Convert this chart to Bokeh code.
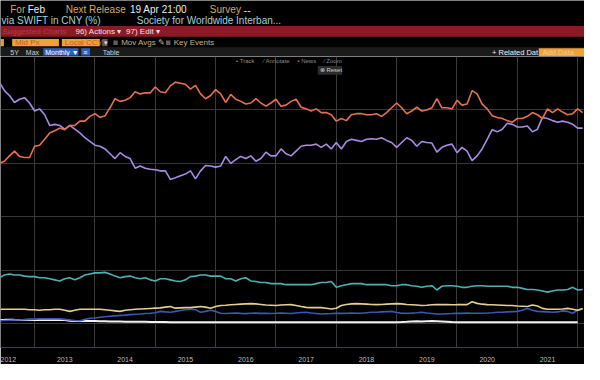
import pandas as pd
from bokeh.plotting import figure
from bokeh.layouts import column
from bokeh.models import Range1d, FixedTicker, CustomJSTickFormatter, Label, BoxAnnotation
from bokeh.core.properties import value
from bokeh.embed import file_html
from bokeh.resources import INLINE

# ---------------- data (monthly, Jun 2012 - Feb 2022, share in %) ----------------
months = pd.date_range("2012-06-01", "2022-02-01", freq="MS")
xs = list(months.year + (months.month - 1) / 12.0)

usd = [30.0, 30.4, 31.4, 32.3, 31.3, 31.1, 31.1, 33.2, 33.4, 34.5,
       35.7, 36.1, 36.6, 36.3, 37.1, 37.1, 37.9, 37.9, 38.8, 39.3,
       38.6, 38.9, 40.4, 42.1, 41.6, 41.8, 42.3, 43.4, 43.0, 43.2,
       43.2, 44.3, 43.4, 43.2, 44.5, 45.2, 45.0, 44.8, 43.9, 44.6,
       43.0, 42.1, 42.7, 43.8, 43.0, 41.4, 42.9, 42.0, 41.6, 41.1,
       41.3, 42.1, 41.3, 40.7, 41.3, 42.0, 40.7, 40.9, 41.6, 42.0,
       40.5, 40.2, 39.8, 40.2, 39.5, 39.5, 39.1, 37.9, 38.4, 38.0,
       39.1, 39.3, 39.3, 39.1, 39.1, 39.3, 38.8, 39.5, 40.4, 41.3,
       40.4, 39.3, 39.8, 40.5, 39.8, 40.0, 40.4, 42.1, 40.4, 40.4,
       40.2, 41.8, 40.9, 41.1, 43.6, 43.0, 41.1, 40.2, 38.9, 38.6,
       38.4, 38.0, 37.7, 38.4, 38.4, 38.8, 39.5, 39.1, 38.4, 40.2,
       39.5, 40.2, 39.6, 39.1, 39.3, 40.2, 39.5]

eur = [45.2, 43.6, 42.7, 41.4, 42.0, 42.3, 41.3, 39.8, 40.2, 39.1,
       37.1, 37.3, 37.1, 36.4, 37.1, 36.4, 35.7, 34.8, 34.1, 33.4,
       33.2, 32.7, 31.8, 30.9, 32.0, 31.3, 30.9, 29.1, 29.5, 29.1,
       28.9, 28.8, 28.6, 28.6, 27.0, 27.3, 27.7, 28.0, 28.6, 27.1,
       28.6, 29.6, 29.5, 29.3, 29.5, 31.3, 30.0, 30.7, 31.3, 30.9,
       31.4, 30.4, 30.9, 32.1, 31.4, 31.4, 32.7, 31.8, 31.4, 32.3,
       33.2, 33.4, 33.4, 33.6, 33.0, 33.6, 32.7, 33.9, 32.7, 34.1,
       34.5, 34.3, 34.1, 34.5, 34.6, 34.5, 34.8, 34.3, 33.9, 33.0,
       33.9, 34.8, 34.3, 33.2, 34.1, 33.9, 33.8, 32.1, 33.0, 33.4,
       33.6, 32.0, 33.0, 32.3, 30.5, 31.4, 32.7, 34.5, 36.3, 35.9,
       36.4, 37.5, 37.3, 36.8, 36.8, 37.0, 35.9, 36.4, 38.6, 38.4,
       38.0, 37.7, 37.9, 37.7, 37.3, 36.6, 36.6]

gbp = [8.6, 9.1, 9.3, 9.1, 9.1, 8.9, 8.8, 8.8, 8.6, 8.6,
       8.4, 8.2, 8.0, 8.4, 8.6, 8.2, 8.6, 9.1, 9.3, 9.5,
       9.5, 9.6, 9.3, 8.9, 8.6, 8.8, 8.9, 8.6, 8.4, 8.6,
       8.2, 8.0, 8.4, 8.4, 8.2, 8.0, 7.9, 8.2, 8.8, 8.9,
       9.1, 9.1, 8.9, 8.9, 8.9, 8.4, 8.4, 8.0, 8.4, 8.6,
       8.0, 7.9, 7.7, 7.7, 7.5, 7.5, 7.5, 7.3, 7.3, 7.3,
       7.3, 7.3, 7.3, 7.5, 7.7, 7.7, 7.9, 6.8, 7.1, 7.3,
       7.5, 7.5, 7.5, 7.3, 7.3, 7.3, 7.3, 7.3, 7.1, 7.1,
       7.3, 7.3, 7.1, 7.0, 6.8, 7.0, 7.1, 6.3, 7.0, 7.1,
       7.1, 7.0, 6.8, 6.8, 7.0, 7.1, 7.1, 7.0, 7.0, 7.0,
       7.0, 7.0, 6.8, 6.8, 6.6, 6.4, 6.4, 6.3, 6.1, 5.9,
       6.1, 6.3, 6.3, 6.4, 6.8, 6.3, 6.4]

jpy = [2.7, 2.7, 2.7, 2.7, 2.7, 2.7, 2.6, 2.6, 2.5, 2.6,
       2.6, 2.7, 2.7, 2.5, 2.3, 2.5, 2.7, 2.7, 2.7, 2.7,
       2.7, 2.6, 2.5, 2.4, 2.3, 2.5, 2.6, 2.7, 2.75, 2.8,
       2.85, 2.9, 2.95, 3.1, 3.2, 2.9, 2.95, 3.0, 3.0, 3.1,
       3.2, 3.1, 2.9, 3.2, 3.4, 3.45, 3.55, 3.6, 3.65, 3.7,
       3.75, 3.7, 3.6, 3.5, 3.45, 3.4, 3.5, 3.55, 3.57, 3.4,
       3.2, 3.05, 3.0, 3.0, 3.0, 2.9, 2.75, 2.9, 3.4, 3.6,
       3.7, 3.75, 3.7, 3.65, 3.6, 3.57, 3.6, 3.65, 3.7, 3.75,
       3.7, 3.6, 3.55, 3.5, 3.4, 3.45, 3.55, 3.6, 3.57, 3.57,
       3.55, 3.57, 3.6, 3.57, 4.1, 3.8, 3.65, 3.57, 3.55, 3.5,
       3.45, 3.4, 3.4, 3.3, 3.25, 3.2, 3.5, 3.3, 2.86, 2.7,
       2.7, 2.7, 2.75, 2.86, 2.7, 2.5, 2.86]

cny = [0.54, 0.6, 0.65, 0.7, 0.7, 0.75, 0.8, 0.85, 0.9, 0.9,
       0.9, 0.9, 0.9, 0.8, 0.7, 0.6, 0.55, 0.8, 1.0, 1.07,
       1.2, 1.3, 1.4, 1.45, 1.55, 1.6, 1.7, 1.75, 1.8, 1.9,
       1.96, 2.05, 2.3, 2.2, 2.14, 2.3, 2.45, 2.6, 2.7, 2.6,
       2.14, 2.3, 2.5, 2.3, 1.96, 1.9, 1.95, 2.0, 1.93, 1.88,
       1.95, 1.98, 1.92, 1.96, 1.9, 1.94, 2.0, 1.95, 1.9, 2.0,
       2.1, 2.14, 2.0, 1.9, 1.8, 1.85, 1.9, 1.96, 1.93, 1.96,
       1.98, 1.94, 1.96, 2.05, 2.14, 2.14, 2.2, 2.25, 2.3, 2.1,
       1.96, 1.94, 1.98, 2.05, 2.14, 2.0, 1.9, 1.8, 1.8, 1.85,
       1.9, 1.96, 1.93, 1.98, 1.96, 1.94, 1.96, 2.0, 2.05, 2.14,
       2.14, 2.2, 2.25, 2.3, 2.5, 2.86, 2.5, 2.3, 2.25, 2.2,
       2.14, 2.2, 2.4, 2.3, 1.96, 2.5, 2.7]

other = [0.7, 0.72, 0.75, 0.72, 0.7, 0.7, 0.72, 0.7, 0.7, 0.68,
         0.7, 0.72, 0.7, 0.7, 0.55, 0.5, 0.5, 0.52, 0.5, 0.48,
         0.45, 0.45, 0.42, 0.4, 0.4, 0.38, 0.36, 0.36, 0.35, 0.34,
         0.33, 0.32, 0.3, 0.3, 0.28, 0.28, 0.27, 0.27, 0.27, 0.27,
         0.27, 0.27, 0.27, 0.27, 0.27, 0.27, 0.27, 0.27, 0.27, 0.27,
         0.27, 0.27, 0.27, 0.27, 0.27, 0.27, 0.27, 0.27, 0.27, 0.27,
         0.27, 0.27, 0.27, 0.27, 0.27, 0.27, 0.27, 0.27, 0.27, 0.27,
         0.27, 0.27, 0.27, 0.27, 0.27, 0.27, 0.27, 0.27, 0.27, 0.27,
         0.3, 0.35, 0.42, 0.45, 0.4, 0.45, 0.48, 0.45, 0.4, 0.35,
         0.3, 0.28, 0.27, 0.27, 0.27, 0.27, 0.27, 0.27, 0.27, 0.27,
         0.27, 0.27, 0.27, 0.27, 0.27, 0.27, 0.27, 0.27, 0.27, 0.27,
         0.27, 0.27, 0.27, 0.27, 0.27, 0.27]

year_labels = [2012, 2013, 2014, 2015, 2016, 2017, 2018, 2019, 2020, 2021]
year_bounds = [2013, 2014, 2015, 2016, 2017, 2018, 2019, 2020, 2021, 2022]
y_grid = [0, 10, 20, 30, 40]

SANS = "Liberation Sans"

# ---------------- header (Bloomberg-style bars) ----------------
hdr = figure(width=584, height=56, x_range=Range1d(0, 600), y_range=Range1d(58, 0),
             output_backend="svg", toolbar_location=None, min_border=0,
             x_axis_location=None, y_axis_location=None,
             background_fill_color="black", border_fill_color="black",
             outline_line_color=None)
hdr.grid.visible = False

boxes = [
    (0, 600, 48.5, 58, "#1b1b1b"),
    (0, 600, 26.5, 37.5, "#8a1a26"),
    (0, 3.5, 40, 47.5, "#e89a35"),
    (12, 60, 40, 47.5, "#efa23a"),
    (63, 102, 40, 47.5, "#efa23a"),
    (104.5, 110, 40, 47.5, "#5a5a5a"),
    (116, 120.5, 41.5, 46, "#5e5e5e"),
    (170, 174.5, 41.5, 46, "#5e5e5e"),
    (44, 80, 49.5, 57, "#2a62c4"),
    (83, 92, 49.5, 57, "#2a62c4"),
    (553, 600, 49.5, 57.5, "#efa23a"),
]
hdr.quad(left=[b[0] for b in boxes], right=[b[1] for b in boxes],
         top=[b[2] for b in boxes], bottom=[b[3] for b in boxes],
         fill_color=[b[4] for b in boxes], line_color=None)


def htext(x, y, t, color, size, style="normal", font=SANS):
    hdr.text(x=[x], y=[y], text=[t], text_color=color, text_font=value(font),
             text_font_size=value(size), text_font_style=style,
             text_baseline="middle", text_align="left")


TAN = "#d7a868"
WHITE = "#ececec"
CYAN = "#a2d2d2"
htext(10, 9.5, "For", TAN, "10px")
htext(28, 9.5, "Feb", WHITE, "10px")
htext(67, 9.5, "Next Release", TAN, "10px")
htext(133, 9.5, "19 Apr 21:00", WHITE, "10px")
htext(215, 9.5, "Survey", TAN, "10px")
htext(250, 9.5, "--", WHITE, "10px")
htext(1, 20.5, "via SWIFT in CNY (%)", CYAN, "10px")
htext(140, 20.5, "Society for Worldwide Interban...", CYAN, "10px")
htext(2, 32, "Suggested Charts", "#b33a48", "8px")
htext(77, 32, "96) Actions \u25be", "#f4e2e2", "8px")
htext(129, 32, "97) Edit \u25be", "#f4e2e2", "8px")
htext(15, 44, "Mid Px", "#b8651c", "8px")
htext(66, 44, "Local CCY", "#b8651c", "8px")
htext(106, 44, "\u25be", "#dddddd", "7px")
htext(124, 44, "Mov Avgs \u270e", "#cbb38d", "8px")
htext(178, 44, "Key Events", "#cbb38d", "8px")
htext(10, 53.5, "5Y", "#d0d0d0", "7px")
htext(26, 53.5, "Max", "#d0d0d0", "7px")
htext(46, 53.5, "Monthly \u25bc", "#ffffff", "7px")
htext(85, 53.5, "\u2261", "#ffffff", "7px")
htext(105, 53.5, "Table", "#d0d0d0", "7px")
htext(505, 53.5, "+ Related Dat", "#f0f0f0", "7.5px")
htext(557, 53.5, "Add Data", "#f8c98a", "7.5px")

# ---------------- main chart ----------------
X0, X1 = 2012.435, 2022.113
p = figure(width=584, height=308, x_range=Range1d(X0, X1), y_range=Range1d(-4.46, 50),
           output_backend="svg", toolbar_location=None,
           min_border_left=0, min_border_right=0, min_border_top=0, min_border_bottom=16,
           y_axis_location=None,
           background_fill_color="black", border_fill_color="black",
           outline_line_color=None)

p.xaxis.ticker = FixedTicker(ticks=[y + 0.5 for y in year_labels])
p.xaxis.formatter = CustomJSTickFormatter(code="return String(Math.floor(tick));")
p.xaxis.major_tick_line_color = None
p.xaxis.minor_tick_line_color = None
p.xaxis.axis_line_color = "#33466b"
p.xaxis.axis_line_dash = "1 3"
p.xaxis.major_label_text_color = "#bdbdbd"
p.xaxis.major_label_text_font = SANS
p.xaxis.major_label_text_font_size = "7px"
p.xaxis.major_label_standoff = 3

p.xgrid.ticker = FixedTicker(ticks=year_bounds)
p.xgrid.grid_line_color = "#3b3b3b"
p.xgrid.grid_line_width = 1
p.ygrid.ticker = FixedTicker(ticks=y_grid)
p.ygrid.grid_line_color = "#383838"
p.ygrid.grid_line_width = 1

p.line(xs[:len(other)], other, line_color="#f2f2f2", line_width=2)
p.line(xs, cny, line_color="#3a57b5", line_width=1.6)
p.line(xs, jpy, line_color="#e3d08b", line_width=1.6)
p.line(xs, gbp, line_color="#4fb0b4", line_width=1.6)
p.line(xs, eur, line_color="#a98be6", line_width=1.6)
p.line(xs, usd, line_color="#e5714e", line_width=1.6)


# overlay controls (decoration, placed in reference pixel positions)
def dx(px):
    return X0 + px / 62.0


def dy(py):
    return (338 - py) / 5.6


for px, t in [(242, "\u2022 Track"), (270, "\u2215 Annotate"), (305, "\u25aa News"), (332, "\u2215 Zoom")]:
    p.add_layout(Label(x=dx(px), y=dy(63), text=t, text_color="#8a8a8a",
                       text_font=SANS, text_font_size="6px", text_baseline="middle"))
p.add_layout(BoxAnnotation(left=dx(326), right=dx(351), top=dy(68), bottom=dy(77),
                           fill_color="#2c2c2c", fill_alpha=1, line_color=None))
p.add_layout(Label(x=dx(328), y=dy(72.5), text="\u2297 Reset", text_color="#d0d0d0",
                   text_font=SANS, text_font_size="6px", text_baseline="middle"))

layout = column(hdr, p, spacing=0)
open("out.html", "w").write(file_html(layout, INLINE))
